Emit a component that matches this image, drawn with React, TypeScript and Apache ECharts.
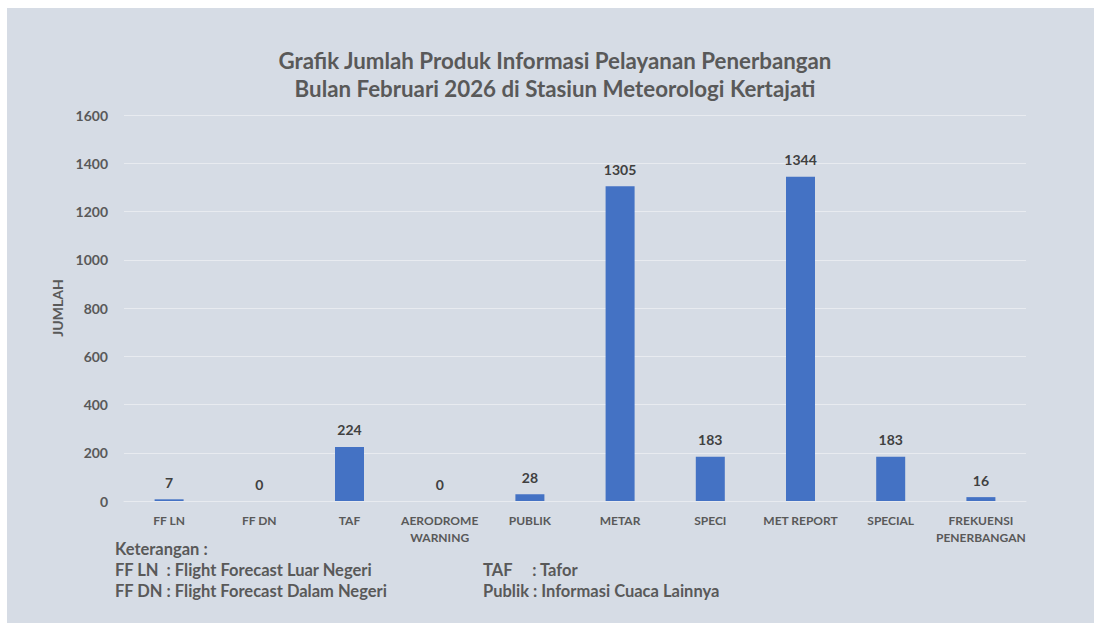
import React, { useEffect, useRef } from "react";
import * as echarts from "echarts";

const categories = [
  "FF LN",
  "FF DN",
  "TAF",
  "AERODROME\nWARNING",
  "PUBLIK",
  "METAR",
  "SPECI",
  "MET REPORT",
  "SPECIAL",
  "FREKUENSI\nPENERBANGAN",
];
const values = [7, 0, 224, 0, 28, 1305, 183, 1344, 183, 16];
const titleLines = [
  "Grafik Jumlah Produk Informasi Pelayanan Penerbangan",
  "Bulan Februari 2026 di Stasiun Meteorologi Kertajati",
];
const yAxisName = "JUMLAH";
const notesLeft = [
  "Keterangan :",
  "FF LN  : Flight Forecast Luar Negeri",
  "FF DN : Flight Forecast Dalam Negeri",
];
const notesRight = ["TAF     : Tafor", "Publik : Informasi Cuaca Lainnya"];

const FONT = "Lato, 'Open Sans', sans-serif";
const GREY = "#595959";

export default function App() {
  const ref = useRef<HTMLDivElement>(null);
  useEffect(() => {
    if (!ref.current) return;
    const chart = echarts.init(ref.current, null, { renderer: "svg" });
    chart.setOption({
      animation: false,
      backgroundColor: "#d6dce5",
      title: {
        text: titleLines.join("\n"),
        left: 543,
        top: 33,
        textAlign: "center",
        textStyle: {
          fontFamily: FONT,
          fontSize: 22.3,
          fontWeight: "bold",
          color: GREY,
          lineHeight: 28,
        },
      },
      grid: { left: 117, right: 68, top: 107, bottom: 122, containLabel: false },
      xAxis: {
        type: "category",
        data: categories,
        axisLine: { show: true, lineStyle: { color: "#e8ebf0", width: 1 } },
        axisTick: { show: false },
        axisLabel: {
          fontFamily: FONT,
          fontSize: 12,
          fontWeight: "bold",
          color: GREY,
          lineHeight: 17,
          margin: 11,
          interval: 0,
        },
      },
      yAxis: {
        type: "value",
        min: 0,
        max: 1600,
        interval: 200,
        name: yAxisName,
        nameLocation: "middle",
        nameGap: 59,
        nameRotate: 90,
        nameTextStyle: {
          fontFamily: FONT,
          fontSize: 14,
          fontWeight: "bold",
          color: GREY,
        },
        axisLine: { show: false },
        axisTick: { show: false },
        axisLabel: {
          fontFamily: FONT,
          fontSize: 14,
          fontWeight: "bold",
          color: GREY,
          margin: 16,
          formatter: (v: number) => String(v),
        },
        splitLine: { lineStyle: { color: "#e8ebf0", width: 1 } },
      },
      series: [
        {
          type: "bar",
          data: values,
          barWidth: 29,
          itemStyle: { color: "#4472c4" },
          label: {
            show: true,
            position: "top",
            distance: 10,
            fontFamily: FONT,
            fontSize: 14,
            fontWeight: "bold",
            color: "#404040",
          },
        },
      ],
      graphic: [
        ...notesLeft.map((t, i) => ({
          type: "text",
          left: 108,
          top: 532 + i * 21,
          style: {
            text: t,
            fontFamily: FONT,
            fontSize: 16.5,
            fontWeight: "bold",
            fill: GREY,
          },
        })),
        ...notesRight.map((t, i) => ({
          type: "text",
          left: 476,
          top: 553 + i * 21,
          style: {
            text: t,
            fontFamily: FONT,
            fontSize: 16.5,
            fontWeight: "bold",
            fill: GREY,
          },
        })),
      ],
    });
    return () => chart.dispose();
  }, []);
  return (
    <div
      ref={ref}
      style={{ position: "fixed", left: 7, top: 8, width: 1087, height: 615 }}
    />
  );
}
